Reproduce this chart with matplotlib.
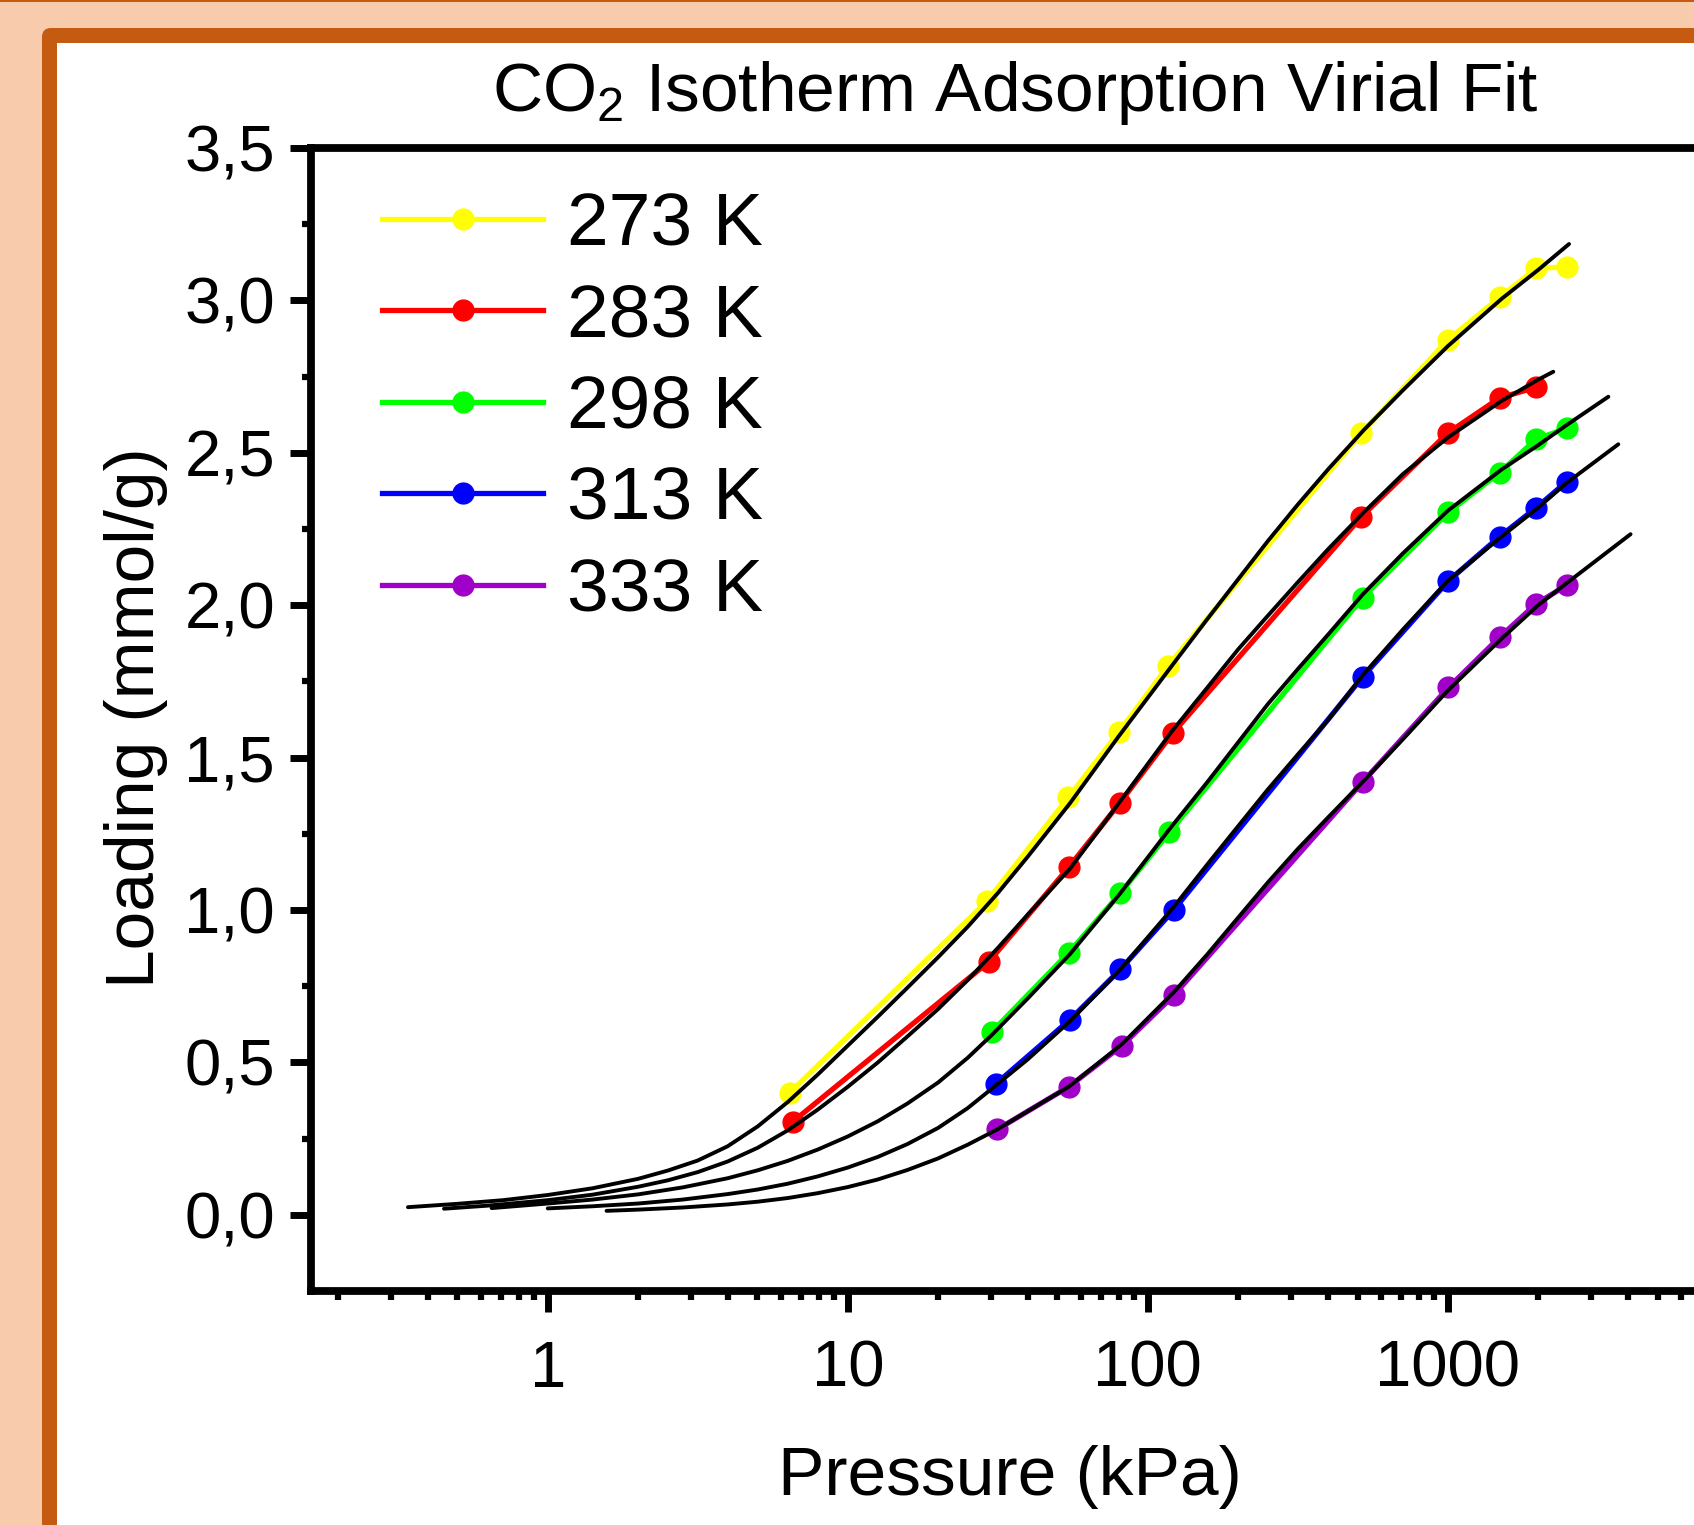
import matplotlib
matplotlib.use('Agg')
import matplotlib.pyplot as plt
from matplotlib.patches import Rectangle, FancyBboxPatch
from matplotlib.ticker import FixedLocator, FixedFormatter, LogLocator, NullFormatter

plt.rcParams['font.family'] = ['Liberation Sans', 'DejaVu Sans']
plt.rcParams['mathtext.fontset'] = 'custom'
plt.rcParams['mathtext.rm'] = 'Liberation Sans'
plt.rcParams['mathtext.it'] = 'Liberation Sans'

# measured points (pressure in kPa, loading in mmol/g)
p_273 = [6.4, 29.2, 54.4, 80.3, 116.7, 515, 1000, 1488, 1972, 2487]
q_273 = [0.40, 1.03, 1.37, 1.585, 1.80, 2.565, 2.87, 3.01, 3.105, 3.11]
p_283 = [6.55, 29.5, 54.5, 80.5, 121, 515, 1000, 1488, 1972]
q_283 = [0.305, 0.83, 1.14, 1.35, 1.58, 2.29, 2.565, 2.68, 2.715]
p_298 = [30.2, 54.5, 81, 118, 520, 1005, 1488, 1972, 2487]
q_298 = [0.60, 0.86, 1.055, 1.255, 2.025, 2.305, 2.435, 2.545, 2.58]
p_313 = [31.2, 55, 81, 122, 520, 1005, 1488, 1972, 2487]
q_313 = [0.43, 0.64, 0.805, 1.0, 1.765, 2.08, 2.225, 2.32, 2.405]
p_333 = [31.5, 54.5, 82, 122, 520, 1005, 1488, 1972, 2487]
q_333 = [0.28, 0.42, 0.555, 0.72, 1.42, 1.73, 1.895, 2.005, 2.065]

# virial fit curves
fp_273 = [0.342, 0.5, 0.71, 1.0, 1.41, 2.0, 2.51, 3.16, 3.98, 5.01, 6.31, 7.94, 10, 12.6, 15.8,
          20, 25.1, 31.6, 39.8, 55, 80, 120, 158, 200, 251, 316, 400, 525, 708, 1000, 1510, 2000, 2535]
fq_273 = [0.025, 0.036, 0.048, 0.065, 0.087, 0.118, 0.145, 0.178, 0.225, 0.29, 0.37, 0.46, 0.555, 0.65, 0.745,
          0.845, 0.945, 1.055, 1.175, 1.35, 1.57, 1.80, 1.955, 2.085, 2.21, 2.33, 2.447, 2.575, 2.705, 2.85,
          3.005, 3.10, 3.185]
fp_283 = [0.451, 0.63, 1.0, 1.41, 2.0, 2.51, 3.16, 3.98, 5.01, 6.31, 7.94, 10, 12.6, 15.8,
          20, 25.1, 31.6, 39.8, 55, 80, 120, 158, 200, 251, 316, 400, 525, 708, 1000, 1510, 2000, 2246]
fq_283 = [0.02, 0.03, 0.048, 0.066, 0.092, 0.113, 0.14, 0.175, 0.22, 0.277, 0.345, 0.42, 0.50, 0.585,
          0.675, 0.77, 0.875, 0.985, 1.135, 1.35, 1.585, 1.73, 1.855, 1.965, 2.075, 2.185, 2.305, 2.43,
          2.55, 2.67, 2.74, 2.766]
fp_298 = [0.65, 1.0, 1.41, 2.0, 2.82, 3.98, 5.01, 6.31, 7.94, 10, 12.6, 15.8, 20, 25.1,
          30.2, 39.8, 55, 81, 118, 158, 200, 251, 316, 400, 520, 708, 1000, 1510, 2000, 2480, 3428]
fq_298 = [0.022, 0.037, 0.05, 0.067, 0.09, 0.12, 0.146, 0.177, 0.214, 0.257, 0.307, 0.365, 0.434, 0.515,
          0.59, 0.71, 0.855, 1.055, 1.265, 1.42, 1.55, 1.675, 1.79, 1.905, 2.035, 2.17, 2.31, 2.445, 2.525,
          2.59, 2.684]
fp_313 = [1.0, 1.41, 2.0, 2.82, 3.98, 5.01, 6.31, 7.94, 10, 12.6, 15.8, 20, 25.1,
          31.2, 39.8, 55, 81, 122, 158, 200, 251, 316, 400, 520, 708, 1000, 1510, 2000, 2480, 3700]
fq_313 = [0.021, 0.028, 0.037, 0.05, 0.068, 0.083, 0.102, 0.126, 0.155, 0.19, 0.232, 0.285, 0.35,
          0.425, 0.51, 0.635, 0.805, 1.01, 1.15, 1.275, 1.395, 1.51, 1.625, 1.77, 1.92, 2.08, 2.225,
          2.32, 2.40, 2.528]
fp_333 = [1.57, 2.0, 2.82, 3.98, 5.01, 6.31, 7.94, 10, 12.6, 15.8, 20, 25.1,
          31.5, 39.8, 54.5, 82, 122, 158, 200, 251, 316, 400, 520, 708, 1000, 1510, 2000, 2510, 4065]
fq_333 = [0.013, 0.017, 0.024, 0.034, 0.043, 0.055, 0.071, 0.091, 0.116, 0.147, 0.185, 0.23,
          0.28, 0.34, 0.42, 0.56, 0.73, 0.855, 0.975, 1.09, 1.20, 1.305, 1.42, 1.56, 1.72, 1.89, 2.0,
          2.075, 2.233]

labels = ['273 K', '283 K', '298 K', '313 K', '333 K']
colors = ['#FFFF00', '#FF0000', '#00FF00', '#0000FF', '#A000C8']

y_ticks = [0.0, 0.5, 1.0, 1.5, 2.0, 2.5, 3.0, 3.5]
y_tick_labels = ['0,0', '0,5', '1,0', '1,5', '2,0', '2,5', '3,0', '3,5']
x_ticks = [1, 10, 100, 1000]
x_tick_labels = ['1', '10', '100', '1000']

W, H = 1694, 1525
fig = plt.figure(figsize=(W / 100, H / 100), dpi=100)

# background frame (pixel coordinates)
bg = fig.add_axes([0, 0, 1, 1], zorder=0)
bg.set_xlim(0, W)
bg.set_ylim(H, 0)
bg.axis('off')
bg.add_patch(Rectangle((0, 0), W, H, color='#F8CBAD', lw=0))
bg.add_patch(Rectangle((0, 0), W, 1.5, color='#C55A11', lw=0))
bg.add_patch(FancyBboxPatch((42, 28), W, H, boxstyle='round,pad=0,rounding_size=9',
                            color='#C55A11', lw=0))
bg.add_patch(Rectangle((57, 43), W, H, color='#FFFFFF', lw=0))

ax = fig.add_axes([311 / W, 1 - 1291 / H, 1409 / W, 1143 / H], zorder=1)
ax.set_facecolor('none')

series = [(p_273, q_273), (p_283, q_283), (p_298, q_298), (p_313, q_313), (p_333, q_333)]
fits = [(fp_273, fq_273), (fp_283, fq_283), (fp_298, fq_298), (fp_313, fq_313), (fp_333, fq_333)]

handles = []
for (p, q), c, lab in zip(series, colors, labels):
    h, = ax.plot(p, q, '-o', color=c, lw=3.8, ms=15, label=lab, zorder=2)
    handles.append(h)
for fp, fq in fits:
    ax.plot(fp, fq, '-', color='black', lw=2.8, zorder=3,
            solid_joinstyle='round', solid_capstyle='round')

ax.set_xscale('log')
ax.set_xlim(0.1625, 8075)
ax.set_ylim(-0.25, 3.5)

ax.xaxis.set_major_locator(FixedLocator(x_ticks))
ax.xaxis.set_major_formatter(FixedFormatter(x_tick_labels))
ax.xaxis.set_minor_locator(LogLocator(base=10, subs=range(2, 10)))
ax.xaxis.set_minor_formatter(NullFormatter())
ax.yaxis.set_major_locator(FixedLocator(y_ticks))
ax.yaxis.set_major_formatter(FixedFormatter(y_tick_labels))
ax.yaxis.set_minor_locator(FixedLocator([0.25, 0.75, 1.25, 1.75, 2.25, 2.75, 3.25]))

for s in ax.spines.values():
    s.set_linewidth(5.6)
ax.tick_params(which='major', direction='out', length=15, width=5, labelsize=47)
ax.tick_params(which='minor', direction='out', length=6.5, width=4.5)
ax.tick_params(axis='x', which='major', pad=20)
ax.tick_params(axis='y', which='major', pad=11)

ax.legend(handles=handles, loc='upper left', bbox_to_anchor=(382 / W, 1 - 191 / H),
          bbox_transform=fig.transFigure, frameon=False, fontsize=54,
          handlelength=2.15, handletextpad=0.32, labelspacing=0.30,
          borderpad=0, borderaxespad=0, markerscale=1.0)

fig.text(1015.6 / W, 1 - 111 / H, 'CO$_\\mathregular{2}$ Isotherm Adsorption Virial Fit',
         fontsize=50, ha='center', va='baseline')
fig.text(1010 / W, 1 - 1495 / H, 'Pressure (kPa)', fontsize=50, ha='center', va='baseline')
fig.text(154.5 / W, 1 - 718 / H, 'Loading (mmol/g)', fontsize=50, rotation=90,
         rotation_mode='anchor', ha='center', va='baseline')

fig.savefig('out.png', dpi=100)
